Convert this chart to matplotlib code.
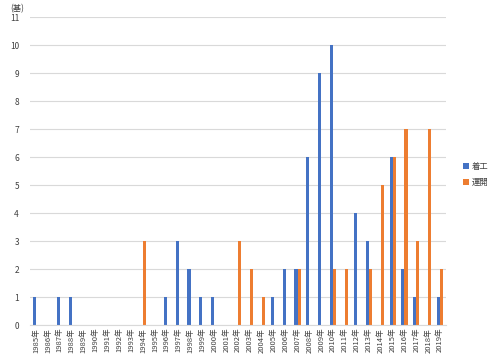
import matplotlib
matplotlib.use("Agg")
import matplotlib.pyplot as plt
import numpy as np

plt.rcParams['font.family'] = ['Noto Sans CJK JP', 'DejaVu Sans']

years = [f"{y}年" for y in range(1985, 2020)]
start = [1, 0, 1, 1, 0, 0, 0, 0, 0, 0, 0, 1, 3, 2, 1, 1, 0, 0, 0, 0,
         1, 2, 2, 6, 9, 10, 0, 4, 3, 0, 6, 2, 1, 0, 1]
operate = [0, 0, 0, 0, 0, 0, 0, 0, 0, 3, 0, 0, 0, 0, 0, 0, 0, 3, 2, 1,
           0, 0, 2, 0, 0, 2, 2, 0, 2, 5, 6, 7, 3, 7, 2]

blue = '#4472C4'
orange = '#ED7D31'

fig = plt.figure(figsize=(4.94, 3.56), dpi=100)
ax = fig.add_axes([0.061, 0.087, 0.842, 0.865])

x = np.arange(len(years))
w = 0.26
ax.bar(x - w / 2, start, width=w, color=blue, label='着工')
ax.bar(x + w / 2, operate, width=w, color=orange, label='運開')

ax.set_xlim(-0.5, len(years) - 0.5)
ax.set_ylim(0, 11)
ax.set_yticks(range(0, 12))
ax.set_xticks(x)
ax.set_xticklabels(years, rotation=90, fontsize=5.5, color='#404040')
ax.tick_params(axis='y', labelsize=6, colors='#404040', length=0, pad=8)
ax.tick_params(axis='x', length=0, pad=2)
ax.grid(axis='y', color='#D9D9D9', linewidth=0.8)
ax.set_axisbelow(True)
for s in ['top', 'right', 'left']:
    ax.spines[s].set_visible(False)
ax.spines['bottom'].set_color('#D9D9D9')

fig.text(0.02, 0.975, '(基)', fontsize=6, color='#404040', va='center')

fig.legend(loc='center left', bbox_to_anchor=(0.922, 0.51), frameon=False,
           fontsize=6, handlelength=0.7, handleheight=0.7, handletextpad=0.4,
           labelspacing=0.8, labelcolor='#404040')

fig.savefig('out.png', dpi=100)
